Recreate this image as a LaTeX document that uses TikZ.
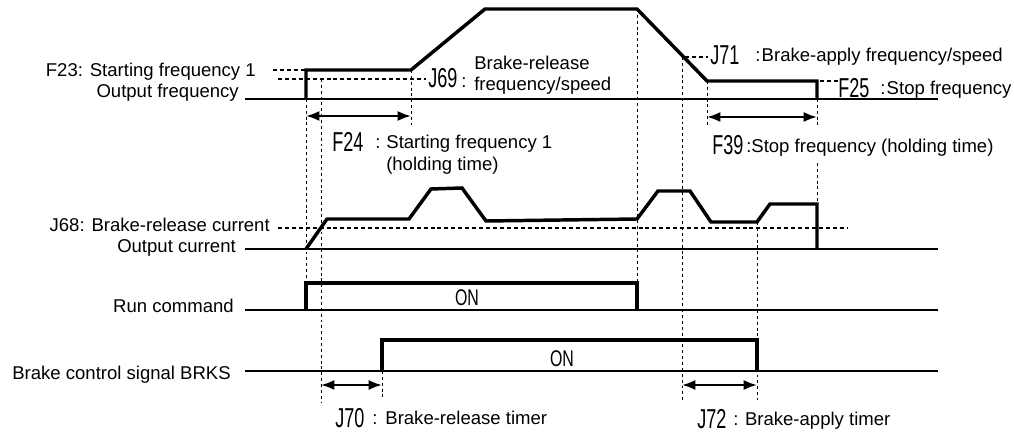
\documentclass[tikz,border=0pt]{standalone}
\usepackage{fontspec}
\usepackage{graphicx}
\setmainfont{Liberation Sans}
\usetikzlibrary{arrows.meta}

\newcommand{\parcode}[1]{\scalebox{0.66}[1]{\fontsize{20.5}{22}\selectfont #1}}
\newcommand{\oncode}{\scalebox{0.7}[1]{\fontsize{17}{18}\selectfont ON}}

\begin{document}
\begin{tikzpicture}[x=0.75pt,y=-0.75pt]
  \tikzset{
      > = {Latex[length=10pt,width=7.5pt]},
      every node/.append style = {
          font = \fontsize{13.9}{16}\selectfont,
          inner sep = 0pt
      },
      base/.style = {line width = 1.4pt},
      signal/.style = {line width = 2.6pt, line join = miter},
      guide/.style = {line width = 0.75pt, dash pattern = on 2.2pt off 2.2pt},
      level/.style = {line width = 0.8pt, dash pattern = on 3pt off 2.2pt},
      span/.style = {line width = 1.6pt, <->}
  }
  \useasboundingbox (0,0) rectangle (1014,434);

  % signal names
  \node[anchor=base east] (f23) at (256,77) {F23: Starting frequency 1};
  \node[anchor=base east] (fout) at (239,98) {Output frequency};
  \node[anchor=base east] (j68) at (270,232) {J68: Brake-release current};
  \node[anchor=base east] (iout) at (236,253) {Output current};
  \node[anchor=base east] (run) at (234,313) {Run command};
  \node[anchor=base east] (brks) at (231,380) {Brake control signal BRKS};

  % guide lines
  \draw[guide] (306,99) -- (306,283);
  \draw[guide] (321,79) -- (321,402);
  \draw[guide] (382,371) -- (382,400);
  \draw[guide] (411,70) -- (411,125);
  \draw[guide] (637,9) -- (637,283);
  \draw[guide] (682,57) -- (682,403);
  \draw[guide] (707,81) -- (707,127);
  \draw[guide] (757,222) -- (757,400);
  \draw[guide] (817,99) -- (817,127);
  \draw[guide] (817,163) -- (817,204);

  % levels
  \draw[level] (273,70) -- (306,70);
  \draw[level] (278,79) -- (426,79);
  \draw[level] (278,228) -- (847,228);
  \draw[level] (685,57) -- (708,57);
  \draw[level] (820,81) -- (838,81);

  % output frequency
  \draw[base] (245,99) -- (938,99);
  \draw[signal] (306,99) -- (306,70) -- (411,70) -- (485,9) -- (637,9)
      -- (707,81) -- (817,81) -- (817,99);

  % output current
  \draw[base] (245,249) -- (938,249);
  \draw[signal] (306,249) -- (327,219) -- (409,219) -- (431,189) -- (462,188)
      -- (486,221) -- (637,219) -- (658,191) -- (690,191) -- (711,222)
      -- (757,222) -- (770,204) -- (817,204) -- (817,249);

  % run command
  \draw[base] (245,310) -- (938,310);
  \draw[signal] (306,310) -- (306,283) -- (637,283) -- (637,310);
  \node (runon) at (467,298) {\oncode};

  % brake signal
  \draw[base] (245,371) -- (938,371);
  \draw[signal] (382,371) -- (382,340) -- (757,340) -- (757,371);
  \node (brkson) at (562,359) {\oncode};

  % time spans
  \coordinate (f24l) at (306,116);
  \coordinate (f24r) at (411,116);
  \coordinate (f39l) at (707,117);
  \coordinate (f39r) at (817,117);
  \coordinate (j70l) at (321,385);
  \coordinate (j70r) at (382,385);
  \coordinate (j72l) at (682,385);
  \coordinate (j72r) at (757,385);
  \draw[span] (f24l) -- (f24r);
  \draw[span] (f39l) -- (f39r);
  \draw[span] (j70l) -- (j70r);
  \draw[span] (j72l) -- (j72r);

  % parameter labels
  \node[anchor=base west] (f24) at (332,152) {\parcode{F24}};
  \node[anchor=base west] (f24a) at (375,149) {:\hspace{4.5pt}Starting frequency 1};
  \node[anchor=base west] (f24b) at (386,171) {(holding time)};
  \node[anchor=base west] (j69) at (428,88) {\parcode{J69}\hspace{3pt}:};
  \node[anchor=base west] (j69a) at (474,70) {Brake-release};
  \node[anchor=base west] (j69b) at (474,91) {frequency/speed};
  \node[anchor=base west] (j71) at (710,65) {\parcode{J71}};
  \node[anchor=base west] (j71a) at (755,62) {:\hspace{1pt}Brake-apply frequency/speed};
  \node[anchor=base west] (f25) at (838,98) {\parcode{F25}};
  \node[anchor=base west] (f25a) at (880,95) {:\hspace{1pt}Stop frequency};
  \node[anchor=base west] (f39) at (712,155) {\parcode{F39}};
  \node[anchor=base west] (f39a) at (746,153) {:Stop frequency (holding time)};
  \node[anchor=base west] (j70) at (335,428) {\parcode{J70}};
  \node[anchor=base west] (j70a) at (372,425) {:\hspace{6pt}Brake-release timer};
  \node[anchor=base west] (j72) at (697,429) {\parcode{J72}};
  \node[anchor=base west] (j72a) at (733,426) {:\hspace{5pt}Brake-apply timer};
\end{tikzpicture}
\end{document}
